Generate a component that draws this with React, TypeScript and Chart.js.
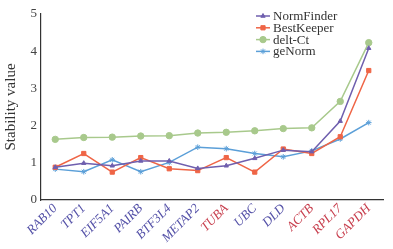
import React, { useEffect, useRef } from "react";
import { Chart, registerables } from "chart.js";

Chart.register(...registerables);

const categories = ["RAB10", "TPT1", "EIF5A1", "PAIRB", "BTF3L4", "METAP2", "TUBA", "UBC", "DLD", "ACTB", "RPL17", "GAPDH"];
const redLabels = ["TUBA", "ACTB", "RPL17", "GAPDH"];
const normFinder = [0.88, 0.99, 0.92, 1.05, 1.05, 0.85, 0.92, 1.12, 1.34, 1.3, 2.12, 4.08];
const bestKeeper = [0.88, 1.25, 0.75, 1.14, 0.84, 0.79, 1.14, 0.75, 1.37, 1.25, 1.7, 3.48];
const deltCt = [1.63, 1.68, 1.69, 1.72, 1.73, 1.8, 1.82, 1.86, 1.92, 1.94, 2.65, 4.23];
const geNorm = [0.83, 0.76, 1.08, 0.76, 1.01, 1.42, 1.38, 1.25, 1.16, 1.32, 1.64, 2.08];
const yTicks = [0, 1, 2, 3, 4, 5];

const SERIF = "'Liberation Serif', 'Times New Roman', serif";

const series = [
  { label: "NormFinder", data: normFinder, color: "#6f5fae", style: "triangle", r: 2.5 },
  { label: "BestKeeper", data: bestKeeper, color: "#ef6546", style: "rect", r: 3 },
  { label: "delt-Ct", data: deltCt, color: "#a8c98c", style: "circle", r: 3.2 },
  { label: "geNorm", data: geNorm, color: "#5b9fd8", style: "star", r: 2.8 },
];

const legendPlugin = {
  id: "innerLegend",
  afterDraw(chart: any) {
    const ctx = chart.ctx;
    const area = chart.chartArea;
    const x0 = area.left + 215;
    const y0 = area.top + 2;
    ctx.save();
    series.forEach((s, i) => {
      const y = y0 + i * 11.8;
      ctx.strokeStyle = s.color;
      ctx.lineWidth = 1.5;
      ctx.beginPath();
      ctx.moveTo(x0, y);
      ctx.lineTo(x0 + 14, y);
      ctx.stroke();
      const el = chart.getDatasetMeta(i).data[0];
      if (el) {
        const sx = el.x, sy = el.y;
        el.x = x0 + 7;
        el.y = y;
        el.draw(ctx, area);
        el.x = sx;
        el.y = sy;
      }
      ctx.fillStyle = "#333";
      ctx.font = `13px ${SERIF}`;
      ctx.textBaseline = "middle";
      ctx.textAlign = "left";
      ctx.fillText(s.label, x0 + 17, y + 0.5);
    });
    ctx.restore();
  },
};

export default function App() {
  const ref = useRef<HTMLCanvasElement>(null);
  useEffect(() => {
    document.body.style.margin = "0";
    const chart = new Chart(ref.current!, {
      type: "line",
      data: {
        labels: categories,
        datasets: series.map((s) => ({
          label: s.label,
          data: s.data,
          borderColor: s.color,
          backgroundColor: s.color,
          borderWidth: 1.5,
          pointStyle: s.style as any,
          pointRadius: s.r,
          pointBorderWidth: 1,
          tension: 0,
        })),
      },
      options: {
        responsive: false,
        animation: false,
        layout: { padding: { top: 14, right: 10, left: 2, bottom: 0 } },
        plugins: { legend: { display: false }, tooltip: { enabled: false } },
        scales: {
          x: {
            offset: true,
            grid: { display: false, drawTicks: true, tickLength: -3, tickColor: "#333" } as any,
            border: { color: "#333", width: 1.2 },
            ticks: {
              maxRotation: 45,
              minRotation: 45,
              autoSkip: false,
              padding: 4,
              font: { family: SERIF, size: 13, style: "italic" },
              color: (c: any) => (redLabels.includes(categories[c.index]) ? "#c8404f" : "#5552a8"),
            },
            afterFit: (s: any) => {
              s.height = 49;
            },
          },
          y: {
            min: 0,
            max: 5,
            afterBuildTicks: (s: any) => {
              s.ticks = yTicks.map((v) => ({ value: v }));
            },
            grid: { display: false, drawTicks: true, tickLength: 3, tickColor: "#333" } as any,
            border: { color: "#333", width: 1.2 },
            ticks: { font: { family: SERIF, size: 13 }, color: "#444", padding: 1 },
            title: { display: true, text: "Stability value", font: { family: SERIF, size: 15 }, color: "#333", padding: 0 },
            afterFit: (s: any) => {
              s.width = 39;
            },
          },
        },
      },
      plugins: [legendPlugin],
    });
    return () => chart.destroy();
  }, []);
  return <canvas ref={ref} width={393} height={249} style={{ display: "block" }} />;
}
